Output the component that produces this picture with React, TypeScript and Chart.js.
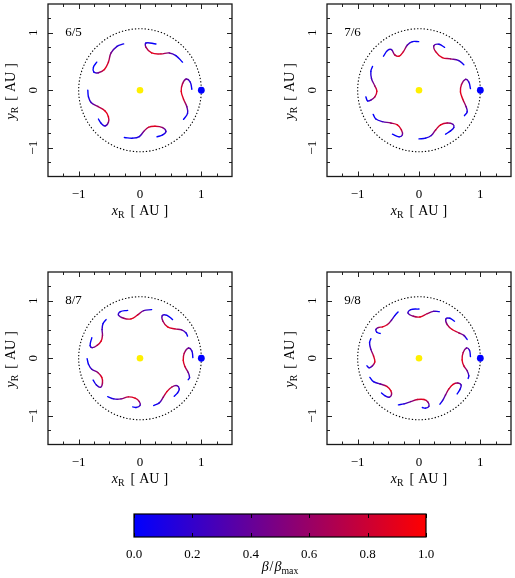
import React, { useEffect, useRef } from 'react';
import { Chart, registerables } from 'chart.js';

Chart.register(...registerables);

// ---------- data ----------
const AXIS_RANGE = [-1.5, 1.5];
const MAJOR_TICKS = [-1, 0, 1];
const MINOR_TICKS = [-1.25, -0.75, -0.5, -0.25, 0.25, 0.5, 0.75, 1.25];
const SUN = { x: 0, y: 0 };
const EARTH = { x: 1, y: 0 };
const ORBIT_RADII = [1.0, 1.07];
const LABEL_POS = { x: -1.22, y: 0.94 };
const PANEL_LABELS = ['6/5', '7/6', '8/7', '9/8'];

// each point: [x, y, beta/beta_max]
const TRACKS_6_5 = [
  [[-0.266, 0.805, 0.05], [-0.374, 0.764, 0.15], [-0.472, 0.649, 0.45], [-0.515, 0.489, 0.8], [-0.58, 0.362, 0.9], [-0.678, 0.305, 0.45], [-0.753, 0.316, 0.05], [-0.759, 0.402, 0], [-0.705, 0.489, 0]],
  [[0.26, 0.805, 0], [0.098, 0.822, 0.1], [0.098, 0.747, 0.6], [0.19, 0.649, 0.9], [0.341, 0.632, 0.8], [0.477, 0.649, 0.45], [0.585, 0.603, 0.1], [0.694, 0.489, 0]],
  [[0.846, 0.017, 0], [0.818, 0.144, 0.15], [0.753, 0.195, 0.4], [0.694, 0.115, 0.7], [0.672, -0.017, 0.9], [0.71, -0.155, 0.85], [0.764, -0.287, 0.45], [0.775, -0.402, 0.1], [0.71, -0.506, 0]],
  [[-0.255, -0.822, 0], [-0.119, -0.833, 0.05], [-0.011, -0.805, 0.15], [0.06, -0.718, 0.5], [0.136, -0.644, 0.8], [0.244, -0.626, 0.9], [0.369, -0.649, 0.55], [0.423, -0.718, 0.2], [0.369, -0.776, 0.05], [0.276, -0.81, 0]],
  [[-0.851, 0, 0], [-0.84, -0.115, 0.05], [-0.797, -0.213, 0.25], [-0.688, -0.282, 0.6], [-0.569, -0.362, 0.9], [-0.515, -0.46, 0.9], [-0.515, -0.557, 0.55], [-0.569, -0.621, 0.2], [-0.634, -0.575, 0.05], [-0.678, -0.5, 0]],
];

const TRACKS_7_6 = [
  [[-0.579, 0.592, 0], [-0.514, 0.69, 0.05], [-0.449, 0.707, 0.25], [-0.395, 0.615, 0.7], [-0.325, 0.592, 0.9], [-0.254, 0.672, 0.8], [-0.189, 0.787, 0.35], [-0.108, 0.845, 0.05], [-0.005, 0.845, 0]],
  [[0.417, 0.747, 0], [0.325, 0.799, 0.1], [0.244, 0.776, 0.4], [0.271, 0.672, 0.8], [0.379, 0.569, 0.9], [0.514, 0.546, 0.6], [0.649, 0.517, 0.2], [0.731, 0.443, 0]],
  [[0.839, 0.029, 0], [0.812, 0.144, 0.15], [0.758, 0.19, 0.4], [0.693, 0.098, 0.7], [0.676, -0.029, 0.9], [0.714, -0.155, 0.85], [0.768, -0.287, 0.45], [0.785, -0.374, 0.1], [0.741, -0.443, 0]],
  [[0, -0.845, 0], [0.108, -0.833, 0.05], [0.2, -0.787, 0.25], [0.271, -0.69, 0.7], [0.352, -0.603, 0.9], [0.46, -0.569, 0.7], [0.552, -0.592, 0.35], [0.568, -0.649, 0.15], [0.514, -0.707, 0.05], [0.433, -0.764, 0]],
  [[-0.747, -0.42, 0], [-0.703, -0.5, 0.05], [-0.595, -0.546, 0.25], [-0.46, -0.569, 0.6], [-0.352, -0.603, 0.9], [-0.287, -0.69, 0.8], [-0.271, -0.776, 0.35], [-0.325, -0.81, 0.05], [-0.433, -0.764, 0]],
  [[-0.758, 0.414, 0], [-0.785, 0.328, 0.05], [-0.774, 0.201, 0.25], [-0.72, 0.075, 0.6], [-0.687, -0.017, 0.9], [-0.72, -0.115, 0.7], [-0.785, -0.172, 0.35], [-0.839, -0.184, 0.05], [-0.866, -0.115, 0]],
];

const TRACKS_8_7 = [
  [[-0.201, 0.833, 0], [-0.32, 0.81, 0.05], [-0.352, 0.753, 0.25], [-0.266, 0.695, 0.6], [-0.146, 0.684, 0.9], [-0.038, 0.753, 0.8], [0.06, 0.828, 0.35], [0.19, 0.845, 0]],
  [[0.531, 0.672, 0], [0.439, 0.747, 0.05], [0.363, 0.741, 0.25], [0.374, 0.644, 0.6], [0.45, 0.546, 0.9], [0.569, 0.511, 0.8], [0.678, 0.494, 0.45], [0.748, 0.443, 0.15], [0.775, 0.385, 0]],
  [[0.862, 0.011, 0], [0.846, 0.126, 0.15], [0.791, 0.178, 0.4], [0.721, 0.086, 0.7], [0.705, -0.034, 0.9], [0.732, -0.144, 0.8], [0.786, -0.247, 0.45], [0.808, -0.333, 0.15], [0.786, -0.374, 0]],
  [[0.222, -0.822, 0], [0.314, -0.776, 0.15], [0.379, -0.678, 0.6], [0.439, -0.58, 0.9], [0.52, -0.5, 0.7], [0.602, -0.477, 0.35], [0.64, -0.534, 0.15], [0.612, -0.603, 0.05], [0.558, -0.661, 0]],
  [[-0.526, -0.667, 0], [-0.428, -0.707, 0.15], [-0.309, -0.707, 0.45], [-0.19, -0.672, 0.8], [-0.081, -0.695, 0.9], [-0.011, -0.753, 0.6], [0, -0.822, 0.25], [-0.065, -0.856, 0.05], [-0.119, -0.845, 0]],
  [[-0.862, -0.006, 0], [-0.84, -0.103, 0.05], [-0.786, -0.19, 0.25], [-0.688, -0.247, 0.6], [-0.623, -0.333, 0.9], [-0.612, -0.431, 0.7], [-0.645, -0.506, 0.35], [-0.71, -0.466, 0.15], [-0.764, -0.379, 0]],
  [[-0.553, 0.672, 0], [-0.602, 0.603, 0.05], [-0.618, 0.5, 0.25], [-0.612, 0.397, 0.6], [-0.634, 0.299, 0.9], [-0.699, 0.224, 0.7], [-0.775, 0.184, 0.35], [-0.813, 0.224, 0.05], [-0.786, 0.356, 0]],
];

const TRACKS_9_8 = [
  [[0, 0.856, 0], [-0.135, 0.845, 0.05], [-0.179, 0.787, 0.25], [-0.092, 0.73, 0.6], [0.016, 0.718, 0.9], [0.135, 0.776, 0.7], [0.233, 0.816, 0.35], [0.33, 0.81, 0]],
  [[0.579, 0.644, 0], [0.503, 0.695, 0.05], [0.438, 0.684, 0.25], [0.46, 0.586, 0.6], [0.541, 0.5, 0.9], [0.649, 0.443, 0.7], [0.731, 0.397, 0.35], [0.785, 0.328, 0]],
  [[0.839, 0.029, 0], [0.823, 0.138, 0.15], [0.774, 0.178, 0.4], [0.72, 0.098, 0.7], [0.703, -0.029, 0.9], [0.731, -0.132, 0.8], [0.785, -0.218, 0.45], [0.812, -0.305, 0.15], [0.801, -0.351, 0]],
  [[0.341, -0.799, 0], [0.384, -0.736, 0.15], [0.433, -0.638, 0.45], [0.487, -0.534, 0.8], [0.557, -0.454, 0.9], [0.633, -0.431, 0.55], [0.687, -0.466, 0.25], [0.666, -0.546, 0.05], [0.622, -0.621, 0]],
  [[-0.335, -0.81, 0], [-0.244, -0.793, 0.15], [-0.135, -0.753, 0.45], [-0.027, -0.718, 0.8], [0.081, -0.718, 0.9], [0.146, -0.764, 0.55], [0.162, -0.833, 0.25], [0.108, -0.868, 0.05], [0.054, -0.856, 0]],
  [[-0.801, -0.333, 0], [-0.741, -0.408, 0.05], [-0.633, -0.448, 0.35], [-0.525, -0.489, 0.8], [-0.46, -0.563, 0.9], [-0.449, -0.638, 0.55], [-0.487, -0.678, 0.25], [-0.557, -0.649, 0.05], [-0.611, -0.603, 0]],
  [[-0.785, 0.339, 0], [-0.806, 0.27, 0.05], [-0.785, 0.155, 0.35], [-0.741, 0.04, 0.8], [-0.72, -0.063, 0.9], [-0.758, -0.132, 0.45], [-0.812, -0.167, 0.15], [-0.85, -0.132, 0]],
  [[-0.341, 0.805, 0], [-0.395, 0.741, 0.05], [-0.449, 0.661, 0.35], [-0.514, 0.586, 0.8], [-0.595, 0.546, 0.9], [-0.666, 0.534, 0.55], [-0.703, 0.5, 0.25], [-0.687, 0.454, 0.05], [-0.633, 0.431, 0]],
];

const CB_RANGE = [0, 1];
const CB_TICKS = [0, 0.2, 0.4, 0.6, 0.8, 1.0];
const CB_LOW_RGB = [0, 0, 255];
const CB_HIGH_RGB = [255, 0, 0];

// ---------- helpers ----------
const FONT = '"Liberation Serif", "DejaVu Serif", serif';
const FONT_SIZE = 13;
const TITLE_SIZE = 14;

function betaColor(b: number): string {
  const c = CB_LOW_RGB.map((lo, i) => Math.round(lo + (CB_HIGH_RGB[i] - lo) * b));
  return `rgb(${c[0]},${c[1]},${c[2]})`;
}

type Part = { t: string; it?: boolean; sub?: boolean; gap?: number };

function drawRich(ctx: CanvasRenderingContext2D, parts: Part[], cx: number, baseY: number, angle: number) {
  ctx.save();
  ctx.translate(cx, baseY);
  ctx.rotate(angle);
  const fontFor = (p: Part) => `${p.it ? 'italic ' : ''}${p.sub ? TITLE_SIZE * 0.7 : TITLE_SIZE}px ${FONT}`;
  let total = 0;
  const widths = parts.map((p) => {
    ctx.font = fontFor(p);
    const w = ctx.measureText(p.t).width;
    total += w + (p.gap || 0);
    return w;
  });
  let x = -total / 2;
  ctx.textAlign = 'left';
  ctx.textBaseline = 'alphabetic';
  ctx.fillStyle = '#000';
  parts.forEach((p, i) => {
    x += p.gap || 0;
    ctx.font = fontFor(p);
    ctx.fillText(p.t, x, p.sub ? TITLE_SIZE * 0.22 : 0);
    x += widths[i];
  });
  ctx.restore();
}

const fmtTick = (v: number) => (v < 0 ? '\u2212' + Math.abs(v) : String(v));

const X_TITLE: Part[] = [{ t: 'x', it: true }, { t: 'R', sub: true }, { t: '[', gap: 6 }, { t: 'AU', gap: 4 }, { t: ']', gap: 4 }];
const Y_TITLE: Part[] = [{ t: 'y', it: true }, { t: 'R', sub: true }, { t: '[', gap: 6 }, { t: 'AU', gap: 4 }, { t: ']', gap: 4 }];
const CB_TITLE: Part[] = [{ t: '\u03b2', it: true }, { t: '/', gap: 1 }, { t: '\u03b2', it: true, gap: 1 }, { t: 'max', sub: true }];

function makePanelPlugin(label: string) {
  return {
    id: 'panelDecor',
    beforeDatasetsDraw(chart: any) {
      const { ctx, scales } = chart;
      const { x, y } = scales;
      const cx = x.getPixelForValue(SUN.x);
      const cy = y.getPixelForValue(SUN.y);
      const rx = x.getPixelForValue(SUN.x + ORBIT_RADII[0]) - cx;
      const ry = cy - y.getPixelForValue(SUN.y + ORBIT_RADII[1]);
      ctx.save();
      ctx.setLineDash([1.3, 2]);
      ctx.lineWidth = 1.1;
      ctx.strokeStyle = '#000';
      ctx.beginPath();
      ctx.ellipse(cx, cy, rx, ry, 0, 0, Math.PI * 2);
      ctx.stroke();
      ctx.restore();
    },
    afterDatasetsDraw(chart: any) {
      const { ctx, chartArea: a, scales } = chart;
      const { x, y } = scales;
      ctx.save();
      ctx.strokeStyle = '#222';
      ctx.lineWidth = 1;
      const all = [...MAJOR_TICKS.map((v) => [v, 5]), ...MINOR_TICKS.map((v) => [v, 3])];
      ctx.beginPath();
      for (const [v, len] of all) {
        const px = Math.round(x.getPixelForValue(v)) + 0.5;
        ctx.moveTo(px, a.bottom);
        ctx.lineTo(px, a.bottom - len);
        ctx.moveTo(px, a.top);
        ctx.lineTo(px, a.top + len);
        const py = Math.round(y.getPixelForValue(v)) + 0.5;
        ctx.moveTo(a.left, py);
        ctx.lineTo(a.left + len, py);
        ctx.moveTo(a.right, py);
        ctx.lineTo(a.right - len, py);
      }
      ctx.stroke();
      ctx.lineWidth = 1.3;
      ctx.strokeStyle = '#1a1a1a';
      ctx.strokeRect(a.left, a.top, a.right - a.left, a.bottom - a.top);
      ctx.fillStyle = '#000';
      ctx.font = `${FONT_SIZE}px ${FONT}`;
      ctx.textAlign = 'left';
      ctx.textBaseline = 'alphabetic';
      ctx.fillText(label, x.getPixelForValue(LABEL_POS.x), y.getPixelForValue(LABEL_POS.y));
      ctx.restore();
    },
    afterDraw(chart: any) {
      const { ctx, chartArea: a, scales } = chart;
      const { y } = scales;
      ctx.save();
      ctx.fillStyle = '#000';
      ctx.font = `${FONT_SIZE}px ${FONT}`;
      ctx.textAlign = 'center';
      ctx.textBaseline = 'middle';
      for (const v of MAJOR_TICKS) {
        ctx.save();
        ctx.translate(a.left - 14, y.getPixelForValue(v));
        ctx.rotate(-Math.PI / 2);
        ctx.fillText(fmtTick(v), 0, 0);
        ctx.restore();
      }
      ctx.restore();
      drawRich(ctx, X_TITLE, (a.left + a.right) / 2, a.bottom + 38, 0);
      drawRich(ctx, Y_TITLE, a.left - 33, (a.top + a.bottom) / 2 + 1, -Math.PI / 2);
    },
  };
}

function Panel({ tracks, label, left, top }: { tracks: number[][][]; label: string; left: number; top: number }) {
  const ref = useRef<HTMLCanvasElement>(null);
  useEffect(() => {
    const curveSets = tracks.map((pts) => {
      const data = pts.map((p) => ({ x: p[0], y: p[1], b: p[2] }));
      return {
        data,
        showLine: true,
        pointRadius: 0,
        pointHoverRadius: 0,
        borderWidth: 1.4,
        tension: 0.4,
        borderCapStyle: 'round',
        borderJoinStyle: 'round',
        borderColor: betaColor(0),
        order: 2,
        segment: {
          borderColor: (c: any) => {
            const b0 = data[c.p0DataIndex].b;
            const b1 = data[c.p1DataIndex].b;
            const g = c.chart.ctx.createLinearGradient(c.p0.x, c.p0.y, c.p1.x, c.p1.y);
            g.addColorStop(0, betaColor(b0));
            g.addColorStop(1, betaColor(b1));
            return g;
          },
        },
      };
    });
    const chart = new Chart(ref.current as HTMLCanvasElement, {
      type: 'scatter',
      data: {
        datasets: [
          { data: [SUN], pointRadius: 3.3, backgroundColor: '#fff000', borderWidth: 0, order: 0 },
          { data: [EARTH], pointRadius: 3.4, backgroundColor: '#0000ff', borderWidth: 0, order: 0 },
          ...curveSets,
        ] as any,
      },
      options: {
        responsive: false,
        animation: false,
        devicePixelRatio: 1,
        events: [],
        layout: { padding: { left: 0, right: 3, top: 2.5, bottom: 0 } },
        plugins: { legend: { display: false }, tooltip: { enabled: false } },
        scales: {
          x: {
            type: 'linear',
            min: AXIS_RANGE[0],
            max: AXIS_RANGE[1],
            grid: { display: false },
            border: { display: false },
            afterBuildTicks: (s: any) => {
              s.ticks = MAJOR_TICKS.map((v) => ({ value: v }));
            },
            afterFit: (s: any) => {
              s.height = 45.5;
            },
            ticks: {
              autoSkip: false,
              maxRotation: 0,
              minRotation: 0,
              padding: 2,
              color: '#000',
              font: { family: FONT, size: FONT_SIZE },
              callback: (v: any) => fmtTick(Number(v)),
            },
          },
          y: {
            type: 'linear',
            min: AXIS_RANGE[0],
            max: AXIS_RANGE[1],
            grid: { display: false },
            border: { display: false },
            ticks: { display: false },
            afterFit: (s: any) => {
              s.width = 48;
            },
          },
        },
      } as any,
      plugins: [makePanelPlugin(label)],
    });
    return () => chart.destroy();
  }, []);
  return (
    <canvas
      ref={ref}
      width={236}
      height={222}
      style={{ position: 'absolute', left, top, width: 236, height: 222 }}
    />
  );
}

const colorbarPlugin = {
  id: 'cbDecor',
  beforeDatasetsDraw(chart: any) {
    const { ctx, chartArea: a, scales } = chart;
    const { x } = scales;
    const x0 = x.getPixelForValue(CB_RANGE[0]);
    const x1 = x.getPixelForValue(CB_RANGE[1]);
    const g = ctx.createLinearGradient(x0, 0, x1, 0);
    g.addColorStop(0, betaColor(CB_RANGE[0]));
    g.addColorStop(1, betaColor(CB_RANGE[1]));
    ctx.save();
    ctx.fillStyle = g;
    ctx.fillRect(x0, a.top, x1 - x0, a.bottom - a.top);
    ctx.restore();
  },
  afterDatasetsDraw(chart: any) {
    const { ctx, chartArea: a, scales } = chart;
    const { x } = scales;
    ctx.save();
    ctx.strokeStyle = '#000';
    ctx.lineWidth = 1;
    ctx.beginPath();
    for (const v of CB_TICKS) {
      const px = Math.round(x.getPixelForValue(v)) + 0.5;
      ctx.moveTo(px, a.top);
      ctx.lineTo(px, a.top + 4);
      ctx.moveTo(px, a.bottom);
      ctx.lineTo(px, a.bottom - 4);
    }
    ctx.stroke();
    ctx.lineWidth = 1.2;
    ctx.strokeRect(a.left, a.top, a.right - a.left, a.bottom - a.top);
    ctx.restore();
  },
  afterDraw(chart: any) {
    const { ctx, chartArea: a } = chart;
    drawRich(ctx, CB_TITLE, (a.left + a.right) / 2, a.bottom + 34, 0);
  },
};

function Colorbar() {
  const ref = useRef<HTMLCanvasElement>(null);
  useEffect(() => {
    const chart = new Chart(ref.current as HTMLCanvasElement, {
      type: 'scatter',
      data: { datasets: [] },
      options: {
        responsive: false,
        animation: false,
        devicePixelRatio: 1,
        events: [],
        layout: { padding: { left: 14, right: 14, top: 9, bottom: 0 } },
        plugins: { legend: { display: false }, tooltip: { enabled: false } },
        scales: {
          x: {
            type: 'linear',
            min: CB_RANGE[0],
            max: CB_RANGE[1],
            grid: { display: false },
            border: { display: false },
            afterBuildTicks: (s: any) => {
              s.ticks = CB_TICKS.map((v) => ({ value: v }));
            },
            afterFit: (s: any) => {
              s.height = 41;
            },
            ticks: {
              autoSkip: false,
              maxRotation: 0,
              minRotation: 0,
              padding: 2,
              color: '#000',
              font: { family: FONT, size: FONT_SIZE },
              callback: (v: any) => Number(v).toFixed(1),
            },
          },
          y: { display: false, min: 0, max: 1 },
        },
      } as any,
      plugins: [colorbarPlugin],
    });
    return () => chart.destroy();
  }, []);
  return (
    <canvas
      ref={ref}
      width={320}
      height={73}
      style={{ position: 'absolute', left: 120, top: 505, width: 320, height: 73 }}
    />
  );
}

export default function App() {
  const tracks = [TRACKS_6_5, TRACKS_7_6, TRACKS_8_7, TRACKS_9_8];
  const positions = [
    [0, 0],
    [279, 0],
    [0, 267.5],
    [279, 267.5],
  ];
  return (
    <div style={{ position: 'fixed', left: 0, top: 0, width: 515, height: 578, background: '#fff', overflow: 'hidden' }}>
      {tracks.map((t, i) => (
        <Panel key={i} tracks={t} label={PANEL_LABELS[i]} left={positions[i][0]} top={positions[i][1]} />
      ))}
      <Colorbar />
    </div>
  );
}
